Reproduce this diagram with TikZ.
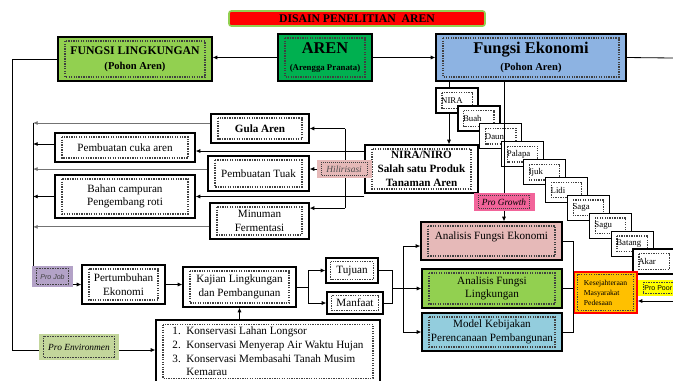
\documentclass[tikz,border=0pt]{standalone}
\usepackage{fontspec}
\setmainfont{Liberation Serif}
\setsansfont{Liberation Sans}
\usepackage{tikz}
\usetikzlibrary{arrows.meta,positioning}

\definecolor{lgreen}{HTML}{92D050}
\definecolor{dgreen}{HTML}{00B050}
\definecolor{eblue}{HTML}{8DB3E2}
\definecolor{rosy}{HTML}{E6B9B8}
\definecolor{aqua}{HTML}{93CDDD}
\definecolor{amber}{HTML}{FFC000}
\definecolor{lilac}{HTML}{B3A2C7}
\definecolor{envgreen}{HTML}{C3D69B}
\definecolor{hotpink}{HTML}{F2649A}
\definecolor{lemon}{HTML}{FFFF00}

\tikzset{
  spot/.style args={#1/#2/#3/#4}{at={({(#1+#3)/2},{(#2+#4)/2})},
    minimum width={(#3-#1)*0.03cm}, minimum height={(#4-#2)*0.03cm}},
  box/.style={draw, line width=1.1pt, fill=white, inner sep=0pt, align=center,
    font=\fontsize{9.5}{11.5}\selectfont},
  dotin/.style 2 args={path picture={\draw[densely dotted, black!75]
    ([shift={(#1,-#2)}]path picture bounding box.north west) rectangle
    ([shift={(-#1,#2)}]path picture bounding box.south east);}},
  part/.style={box, dotin={5pt}{4pt}, minimum width=1.26cm, minimum height=0.75cm,
    text width=0.95cm, align=left, font=\fontsize{7.5}{9}\selectfont},
  tag/.style={inner sep=0pt, dotin={4pt}{2pt}, font=\itshape\fontsize{8}{9}\selectfont},
  link/.style={line width=0.7pt},
  flow/.style={-{Latex[length=4pt,width=3.5pt]}},
}

\begin{document}
\begin{tikzpicture}[x=0.03cm, y=-0.03cm]
\useasboundingbox (0,0) rectangle (673,380);

% judul
\node[box, spot=229/11/485/26, fill=red, draw=lgreen, line width=1.4pt,
  rounded corners=2pt, font=\bfseries\fontsize{10}{12}\selectfont] (title) {DISAIN PENELITIAN\ \ AREN};

% baris atas
\node[box, dotin={6pt}{3.5pt}, spot=58/37/212/81, fill=lgreen,
  font=\bfseries\fontsize{10}{13}\selectfont] (fl) {FUNGSI LINGKUNGAN\\{\fontsize{9}{11}\selectfont (Pohon Aren)}};
\node[box, dotin={6pt}{3.5pt}, spot=278/34/372/81, fill=dgreen,
  font=\bfseries] (aren) {{\fontsize{14}{15}\selectfont AREN}\\[2pt]{\fontsize{7.5}{9}\selectfont (Arengga Pranata)}};
\node[box, dotin={6pt}{3.5pt}, spot=436/34/626/81, fill=eblue,
  font=\bfseries] (fe) {{\fontsize{14}{15}\selectfont Fungsi Ekonomi}\\[3pt]{\fontsize{9}{11}\selectfont (Pohon Aren)}};

\draw[link, flow] (aren.west) -- (aren.west -| fl.east);
\draw[link, flow] (aren.east) -- (fe.west);
\coordinate (feout) at (673,58);
\draw[link] (fe.east) -- (feout);

% produk hilir
\node[box, dotin={6pt}{3.5pt}, spot=211/114/309/143, font=\bfseries\fontsize{9.5}{11.5}\selectfont] (gula) {Gula Aren};
\node[box, dotin={6pt}{3.5pt}, spot=55/133/195/162] (cuka) {Pembuatan cuka aren};
\node[box, dotin={6pt}{3.5pt}, spot=208/156/309/191] (tuak) {Pembuatan Tuak};
\node[box, dotin={6pt}{3.5pt}, spot=55/175/195/218] (bahan) {Bahan campuran\\Pengembang roti};
\node[box, dotin={6pt}{3.5pt}, spot=210/203/309/239] (minum) {Minuman\\Fermentasi};
\node[box, dotin={6pt}{3.5pt}, spot=365/145/478/193,
  font=\bfseries\fontsize{9.5}{12}\selectfont] (niro) {NIRA/NIRO\\Salah satu Produk\\Tanaman Aren};

% ke kiri
\coordinate (lb) at (33,0);
\coordinate (gl) at ([yshift=4.7pt]gula.west);
\coordinate (cl) at ([yshift=3pt]cuka.west);
\coordinate (tl) at ([yshift=3.8pt]tuak.west);
\coordinate (ml) at ([yshift=-5pt]minum.west);
\draw[link, flow, black!55] (gl) -- (gl -| lb);
\draw[link, flow] (cl) -- (cl -| lb);
\draw[link, flow, black!55] (tl) -- (tl -| lb);
\draw[link, flow] (bahan.west) -- (bahan.west -| lb);
\draw[link, flow, black!55] (ml) -- (ml -| lb);

% ke kanan
\coordinate (rb) at (345,0);
\coordinate (cr) at ([yshift=-3pt]cuka.east);
\coordinate (mr) at ([yshift=11pt]minum.east);
\draw[link] (gula.east -| rb) -- (mr -| rb);
\draw[link, flow] (gula.east -| rb) -- (gula.east);
\draw[link, flow] (mr -| rb) -- (mr);
\draw[link, flow] (cr -| niro.west) -- (cr);
\draw[link, flow] (bahan.east -| niro.west) -- (bahan.east);
\draw[link, flow] (niro.west) -- node[tag, pos=0.37, fill=rosy, minimum width=1.65cm,
  minimum height=0.54cm, text=black!70] (hilir) {Hilirisasi} (niro.west -| tuak.east);

% bagian pohon
\coordinate (nx) at (449,0);
\draw[link, flow] (fe.south -| nx) -- (niro.north -| nx);
\foreach \t [count=\i from 0] in {NIRA,Buah,Daun,Palapa,Ijuk,Lidi,Saga,Sagu,Batang,Akar}
  \node[part] (p\i) at ({457+21.9*\i},{100.5+17.9*\i}) {\t};

% analisis
\node[box, dotin={6pt}{3.5pt}, spot=421/222/562/260, fill=rosy, text depth=9pt] (afe) {Analisis Fungsi Ekonomi};
\node[box, dotin={6pt}{3.5pt}, spot=422/269/562/308, fill=lgreen] (afl) {Analisis Fungsi\\Lingkungan};
\node[box, dotin={6pt}{3.5pt}, spot=422/313/562/351, fill=aqua] (model) {Model Kebijakan\\Perencanaan Pembangunan};

\coordinate (gx) at (504,0);
\draw[link, flow] (fe.south -| gx) -- node[tag, pos=0.86, fill=hotpink, minimum width=1.83cm,
  minimum height=0.54cm] (growth) {Pro Growth} (afe.north -| gx);

% kesejahteraan
\node[box, dotin={3pt}{2pt}, spot=574/272/637/313, fill=amber, draw=red, align=left,
  font=\fontsize{6.5}{8.5}\selectfont] (kes) {Kesejahteraan\\Masyarakat\\Pedesaan};
\draw[link] (afe.east) -- (afe.east -| kes.west) -- (model.east -| kes.west) -- (model.east);
\draw[link] (afl.east) -- (afl.east -| kes.west);
\coordinate (pp) at (673,301);
\draw[link, flow] (pp) -- (pp -| kes.east);
\node[tag, anchor=west, fill=lemon, minimum width=1.2cm, minimum height=0.48cm,
  font=\sffamily\fontsize{6}{7}\selectfont] (poor) at (638,288) {Pro Poor};

% kajian
\node[box, dotin={6pt}{3.5pt}, spot=82/265/165/304] (pe) {Pertumbuhan\\Ekonomi};
\node[box, dotin={6pt}{3.5pt}, spot=183/267/296/307] (kaj) {Kajian Lingkungan\\dan Pembangunan};
\node[box, dotin={4pt}{3pt}, spot=326/258/378/283] (tuj) {Tujuan};
\node[box, dotin={4pt}{3pt}, spot=327/292/383/314] (man) {Manfaat};
\node[box, dotin={6pt}{4pt}, spot=156/320/380/383, align=left,
  font=\fontsize{9.5}{11.6}\selectfont] (kons)
  {1.\ \ Konservasi Lahan Longsor\\2.\ \ Konservasi Menyerap Air Waktu Hujan\\
   3.\ \ Konservasi Membasahi Tanah Musim\\\hphantom{3.\ \ }Kemarau};

\draw[link, flow] (pe.east) -- (pe.east -| kaj.west);
\coordinate (kx) at (308,0);
\draw[link] (kaj.east) -- (kaj.east -| kx);
\draw[link, flow] (kaj.east -| kx) |- (tuj.west);
\draw[link, flow] (kaj.east -| kx) |- (man.west);
\coordinate (jx) at (392,0);
\coordinate (ax) at (403,0);
\draw[link] (tuj.east) -- (tuj.east -| jx) -- (man.east -| jx) -- (man.east);
\draw[link, flow] (afl.west -| jx) -- (afl.west);
\coordinate (al) at ([yshift=-4.3pt]afe.west);
\draw[link, flow] (afl.west -| ax) |- (al);
\draw[link, flow] (afl.west -| ax) |- (model.west);
\draw[link, flow] (kons.north -| kaj.south) -- (kaj.south);

% jalur kiri
\draw[link, flow] (gl -| lb) |- (pe.west);
\node[tag, fill=lilac, minimum width=1.23cm, minimum height=0.63cm, text=black!75,
  font=\sffamily\itshape\fontsize{6}{7}\selectfont] (job) at (52.5,276.5) {Pro Job};

\coordinate (lx) at (12,0);
\coordinate (env) at (0,350);
\draw[link, flow] (fl.west) -- (fl.west -| lx) |- (env -| kons.west);
\node[tag, fill=envgreen, minimum width=2.4cm, minimum height=0.78cm] (penv) at (79,347) {Pro Environmen};

\end{tikzpicture}
\end{document}
